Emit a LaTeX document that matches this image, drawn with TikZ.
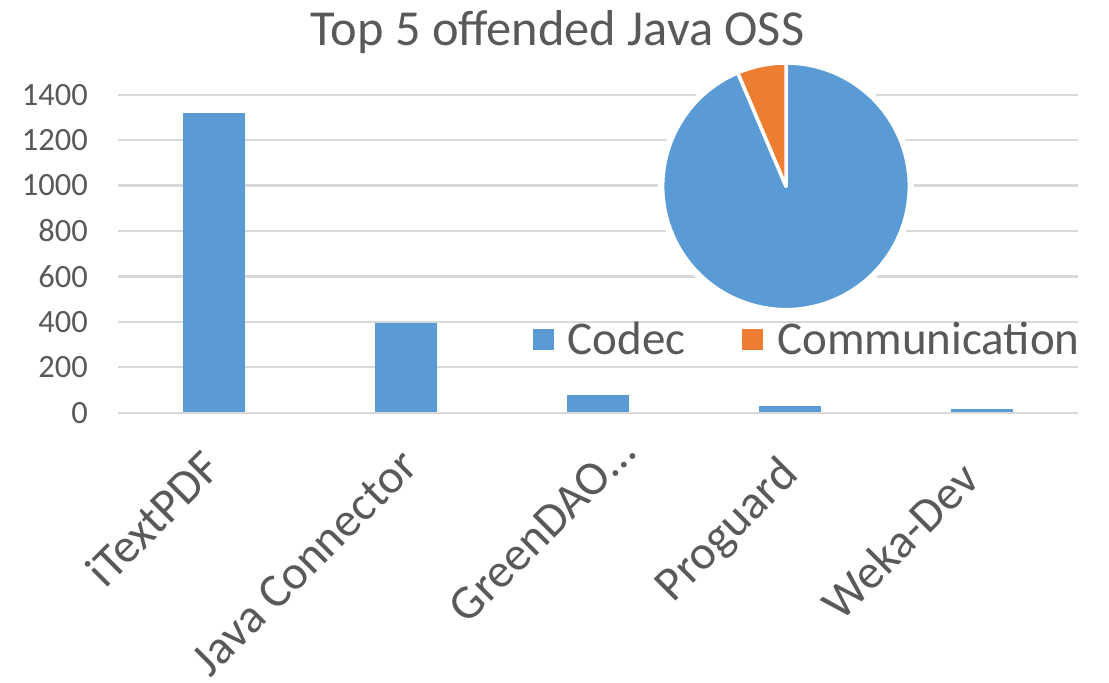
\documentclass[tikz,border=0pt]{standalone}
\usepackage{fontspec}
\setmainfont{Carlito}
\definecolor{txt}{HTML}{595959}
\definecolor{barblue}{HTML}{5B9BD5}
\definecolor{orng}{HTML}{ED7D31}
\definecolor{gridc}{HTML}{D9D9D9}
\begin{document}
\begin{tikzpicture}[x=1pt,y=-1pt,
  gridline/.style={draw=gridc, line width=2.2pt},
  ylab/.style={anchor=east, inner sep=0pt, text=txt, font=\fontsize{32.5}{38}\selectfont},
  catlab/.style={anchor=base east, inner sep=0pt, rotate=45, text=txt, font=\fontsize{48}{58}\selectfont},
  barbox/.style={fill=barblue},
  legsq/.style={inner sep=0pt, minimum size=21pt},
  legtxt/.style={anchor=base west, inner sep=0pt, text=txt, font=\fontsize{47}{56}\selectfont},
  slice/.style={draw=white, line width=3.5pt, line join=round}]
\useasboundingbox[fill=white] (0,0) rectangle (1109,683);
% title
\node[anchor=base, inner sep=0pt, text=txt, font=\fontsize{50.4}{60}\selectfont] (title) at (557.5,45) {Top 5 offended Java OSS};
% gridlines and y labels
\foreach \v/\n in {0/y0,200/y200,400/y400,600/y600,800/y800,1000/y1000,1200/y1200,1400/y1400}{
  \draw[gridline] (118,{412.7-\v*0.22714}) -- (1078,{412.7-\v*0.22714});
  \node[ylab] (\n) at (88,{412.7-\v*0.22714}) {\v};
}
% bars
\foreach \c/\v in {214/1320,406/395,598/77,790/29,982/16}{
  \fill[barbox] ({\c-30.7},411.7) rectangle ({\c+30.7},{412.7-\v*0.22714});
}
% category labels
\node[catlab] (c1) at (223.5,471) {iTextPDF};
\node[catlab] (c2) at (420,469) {Java Connector};
\node[catlab] (c3) at (638,455) {GreenDAO…};
\node[catlab] (c4) at (800,477) {Proguard};
\node[catlab] (c5) at (982,482) {Weka-Dev};
% pie
\coordinate (pc) at (786,186.3);
\fill[white] (pc) circle[radius=128pt];
\filldraw[slice, fill=barblue] (pc) -- ++(113:123.3pt) arc[start angle=113, end angle=450, radius=123.3pt] -- cycle;
\filldraw[slice, fill=orng] (pc) -- ++(90:123.3pt) arc[start angle=90, end angle=113, radius=123.3pt] -- cycle;
% legend
\node[legsq, fill=barblue] (lq1) at (543.7,339.5) {};
\node[legtxt] (lt1) at (567.6,354.3) {Codec};
\node[legsq, fill=orng] (lq2) at (752,339.4) {};
\node[legtxt] (lt2) at (777,354.3) {Communication};
\end{tikzpicture}
\end{document}
